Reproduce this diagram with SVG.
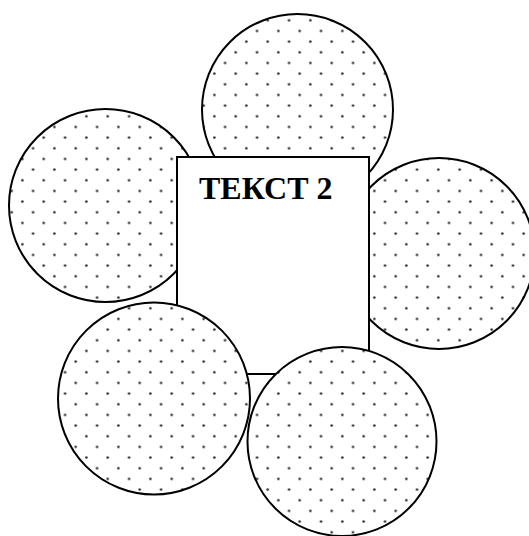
<svg xmlns="http://www.w3.org/2000/svg" width="529" height="536" viewBox="0 0 529 536">
  <defs>
    <pattern id="dots" patternUnits="userSpaceOnUse" x="-4.26" y="4.31" width="21.33" height="21.33">
      <rect width="21.33" height="21.33" fill="#ffffff"/>
      <circle cx="5.33" cy="5.33" r="1.25" fill="#222222"/>
      <circle cx="16" cy="16" r="1.25" fill="#222222"/>
    </pattern>
  </defs>
  <style>
    .petal { fill: url(#dots); stroke: #000; stroke-width: 2; }
    .box { fill: #ffffff; stroke: #000; stroke-width: 2; }
    .label { font-family: "Liberation Serif", "Times New Roman", serif; font-weight: bold; font-size: 32px; fill: #000; }
  </style>
  <rect width="529" height="536" fill="#ffffff"/>
  <g id="circle-top"><circle class="petal" cx="297.5" cy="109.5" r="95.5"/></g>
  <g id="circle-left"><circle class="petal" cx="105.5" cy="205.5" r="96.5"/></g>
  <g id="circle-right"><circle class="petal" cx="439" cy="253.5" r="95.5"/></g>
  <g id="text-box">
    <rect class="box" x="177" y="157" width="192" height="217"/>
    <text class="label" x="199" y="198.5">ТЕКСТ 2</text>
  </g>
  <g id="circle-bottom-left"><circle class="petal" cx="154" cy="398.5" r="96"/></g>
  <g id="circle-bottom-right"><circle class="petal" cx="342" cy="441.5" r="94.5"/></g>
</svg>
